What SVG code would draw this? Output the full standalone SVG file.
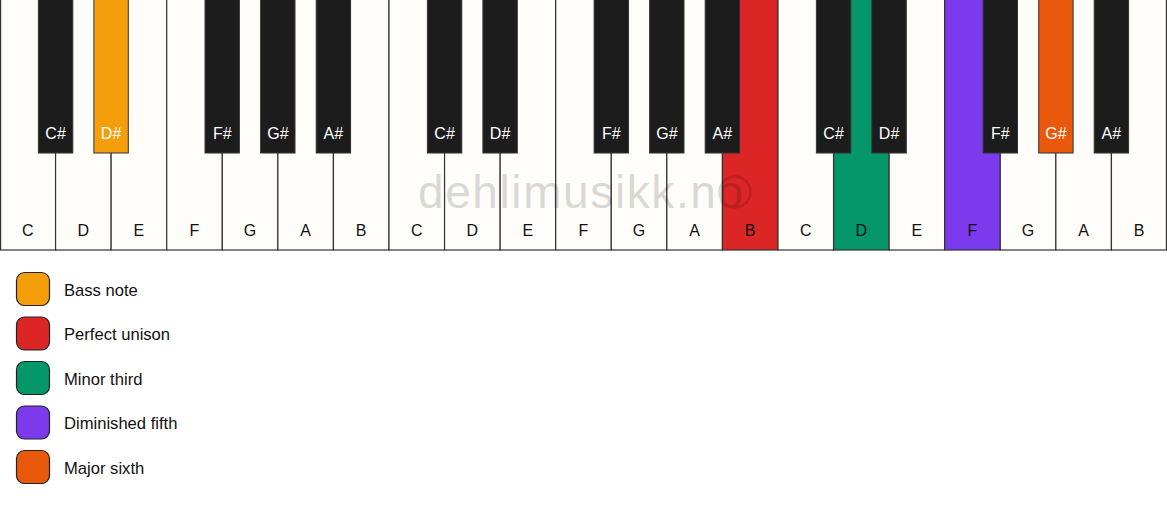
<svg xmlns="http://www.w3.org/2000/svg" width="1167" height="506" viewBox="0 0 1167 506">
<style>
.w{fill:#fffdf9;stroke:#333;stroke-width:1.2}
.b{fill:#1c1c1c;stroke:#333;stroke-width:1}
.wl{font-family:"Liberation Sans",Arial,sans-serif;font-size:16px;fill:#111;text-anchor:middle}
.bl{font-family:"Liberation Sans",Arial,sans-serif;font-size:16px;fill:#fff;text-anchor:middle}
.lg{font-family:"Liberation Sans",Arial,sans-serif;font-size:16.6px;fill:#111}
.sw{stroke:#222;stroke-width:1.2}
</style>
<rect width="1167" height="506" fill="#fff"/>
<g id="white-keys">
<rect class="w" x="0.6" y="-1" width="55.57" height="251"/>
<rect class="w" x="55.57" y="-1" width="55.57" height="251"/>
<rect class="w" x="111.14" y="-1" width="55.57" height="251"/>
<rect class="w" x="166.71" y="-1" width="55.57" height="251"/>
<rect class="w" x="222.29" y="-1" width="55.57" height="251"/>
<rect class="w" x="277.86" y="-1" width="55.57" height="251"/>
<rect class="w" x="333.43" y="-1" width="55.57" height="251"/>
<rect class="w" x="389" y="-1" width="55.57" height="251"/>
<rect class="w" x="444.57" y="-1" width="55.57" height="251"/>
<rect class="w" x="500.14" y="-1" width="55.57" height="251"/>
<rect class="w" x="555.71" y="-1" width="55.57" height="251"/>
<rect class="w" x="611.29" y="-1" width="55.57" height="251"/>
<rect class="w" x="666.86" y="-1" width="55.57" height="251"/>
<rect class="w" x="722.43" y="-1" width="55.57" height="251" style="fill:#dc2626"/>
<rect class="w" x="778" y="-1" width="55.57" height="251"/>
<rect class="w" x="833.57" y="-1" width="55.57" height="251" style="fill:#059669"/>
<rect class="w" x="889.14" y="-1" width="55.57" height="251"/>
<rect class="w" x="944.71" y="-1" width="55.57" height="251" style="fill:#7c3aed"/>
<rect class="w" x="1000.29" y="-1" width="55.57" height="251"/>
<rect class="w" x="1055.86" y="-1" width="55.57" height="251"/>
<rect class="w" x="1111.43" y="-1" width="55" height="251"/>
</g>
<g id="white-labels">
<text class="wl" x="27.8" y="236">C</text>
<text class="wl" x="83.4" y="236">D</text>
<text class="wl" x="138.9" y="236">E</text>
<text class="wl" x="194.5" y="236">F</text>
<text class="wl" x="250.1" y="236">G</text>
<text class="wl" x="305.6" y="236">A</text>
<text class="wl" x="361.2" y="236">B</text>
<text class="wl" x="416.8" y="236">C</text>
<text class="wl" x="472.4" y="236">D</text>
<text class="wl" x="527.9" y="236">E</text>
<text class="wl" x="583.5" y="236">F</text>
<text class="wl" x="639.1" y="236">G</text>
<text class="wl" x="694.6" y="236">A</text>
<text class="wl" x="750.2" y="236">B</text>
<text class="wl" x="805.8" y="236">C</text>
<text class="wl" x="861.4" y="236">D</text>
<text class="wl" x="916.9" y="236">E</text>
<text class="wl" x="972.5" y="236">F</text>
<text class="wl" x="1028.1" y="236">G</text>
<text class="wl" x="1083.6" y="236">A</text>
<text class="wl" x="1139.2" y="236">B</text>
</g>
<g id="watermark" opacity="0.14">
<text x="418" y="208" font-family="Liberation Sans,Arial,sans-serif" font-size="46" letter-spacing="1.6" fill="#000">dehlimusikk.no</text>
<circle cx="735" cy="192" r="15.5" fill="none" stroke="#000" stroke-width="2.5"/>
</g>
<g id="black-keys">
<rect class="b" x="38.4" y="-1" width="34.4" height="154"/>
<rect class="b" x="93.9" y="-1" width="34.4" height="154" style="fill:#f59e0b"/>
<rect class="b" x="205" y="-1" width="34.4" height="154"/>
<rect class="b" x="260.6" y="-1" width="34.4" height="154"/>
<rect class="b" x="316.2" y="-1" width="34.4" height="154"/>
<rect class="b" x="427.4" y="-1" width="34.4" height="154"/>
<rect class="b" x="482.9" y="-1" width="34.4" height="154"/>
<rect class="b" x="594.1" y="-1" width="34.4" height="154"/>
<rect class="b" x="649.6" y="-1" width="34.4" height="154"/>
<rect class="b" x="705.2" y="-1" width="34.4" height="154"/>
<rect class="b" x="816.4" y="-1" width="34.4" height="154"/>
<rect class="b" x="871.9" y="-1" width="34.4" height="154"/>
<rect class="b" x="983.1" y="-1" width="34.4" height="154"/>
<rect class="b" x="1038.7" y="-1" width="34.4" height="154" style="fill:#ea580c"/>
<rect class="b" x="1094.2" y="-1" width="34.4" height="154"/>
</g>
<g id="black-labels">
<text class="bl" x="55.6" y="139">C#</text>
<text class="bl" x="111.1" y="139">D#</text>
<text class="bl" x="222.3" y="139">F#</text>
<text class="bl" x="277.9" y="139">G#</text>
<text class="bl" x="333.4" y="139">A#</text>
<text class="bl" x="444.6" y="139">C#</text>
<text class="bl" x="500.1" y="139">D#</text>
<text class="bl" x="611.3" y="139">F#</text>
<text class="bl" x="666.9" y="139">G#</text>
<text class="bl" x="722.4" y="139">A#</text>
<text class="bl" x="833.6" y="139">C#</text>
<text class="bl" x="889.1" y="139">D#</text>
<text class="bl" x="1000.3" y="139">F#</text>
<text class="bl" x="1055.9" y="139">G#</text>
<text class="bl" x="1111.4" y="139">A#</text>
</g>
<g id="legend-bass">
<rect class="sw" x="16.5" y="272.5" width="33" height="33" rx="8" fill="#f59e0b"/>
<text class="lg" x="64" y="295.5">Bass note</text>
</g>
<g id="legend-unison">
<rect class="sw" x="16.5" y="317" width="33" height="33" rx="8" fill="#dc2626"/>
<text class="lg" x="64" y="340">Perfect unison</text>
</g>
<g id="legend-minor-third">
<rect class="sw" x="16.5" y="361.5" width="33" height="33" rx="8" fill="#059669"/>
<text class="lg" x="64" y="384.5">Minor third</text>
</g>
<g id="legend-dim-fifth">
<rect class="sw" x="16.5" y="406" width="33" height="33" rx="8" fill="#7c3aed"/>
<text class="lg" x="64" y="429">Diminished fifth</text>
</g>
<g id="legend-major-sixth">
<rect class="sw" x="16.5" y="450.5" width="33" height="33" rx="8" fill="#ea580c"/>
<text class="lg" x="64" y="473.5">Major sixth</text>
</g>
<g id="connectors"/>
</svg>
